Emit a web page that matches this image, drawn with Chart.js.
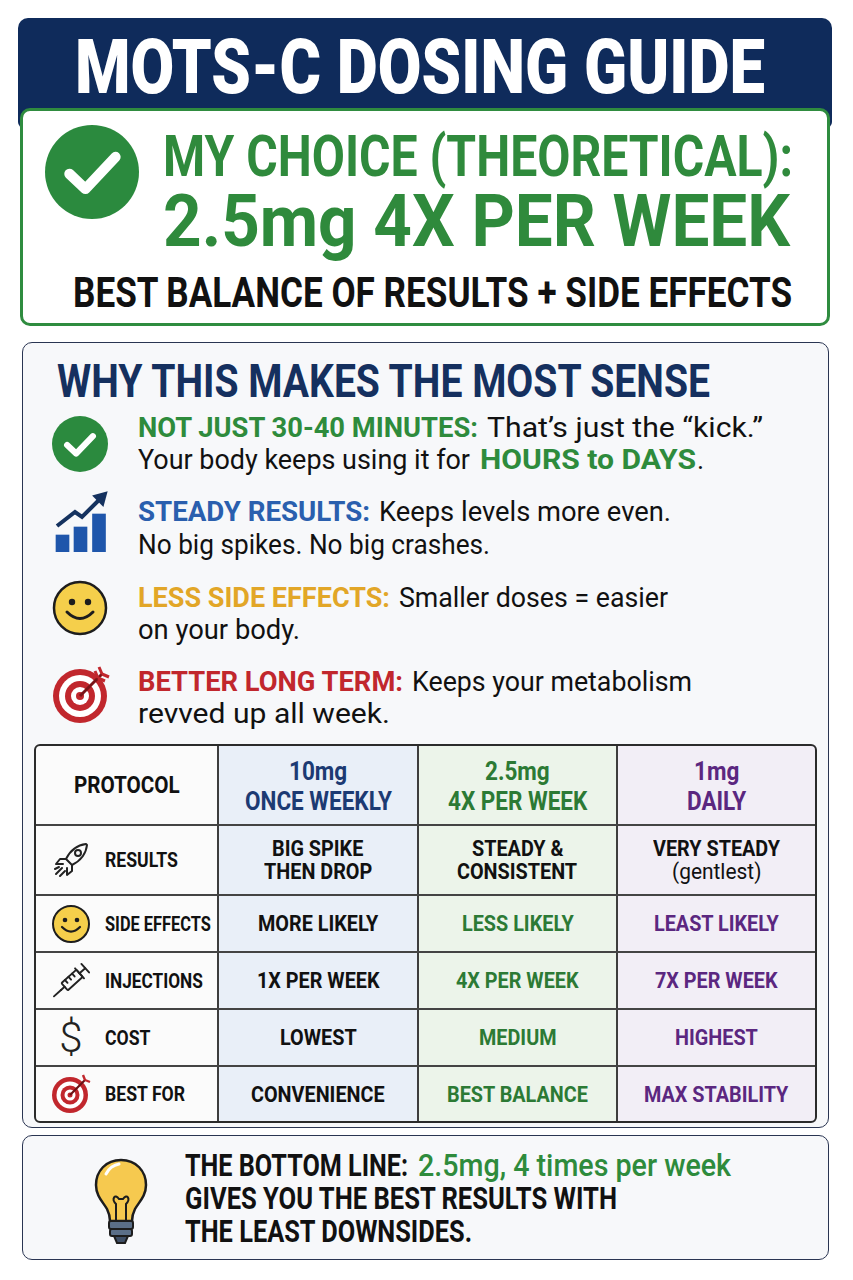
<!DOCTYPE html>
<html>
<head>
<meta charset="utf-8">
<script src="https://cdn.jsdelivr.net/npm/chart.js@4.4.1/dist/chart.umd.min.js"></script>
<style>
  html, body { margin: 0; padding: 0; background: #fff; }
  body { width: 853px; height: 1280px; position: relative; overflow: hidden; font-family: Roboto, "Noto Sans", sans-serif; }
  .abs { position: absolute; }
  .t { position: absolute; white-space: nowrap; line-height: 0.8; transform-origin: left center; }
  .b { font-weight: 700; }
  .nar { display: inline-block; white-space: nowrap; transform-origin: left center; }
  #head { left: 18px; top: 18px; width: 814px; height: 110px; background: #0f2b5b; border-radius: 10px 10px 6px 6px; }
  #choice { left: 20px; top: 108px; width: 804px; height: 212px; background: #fff; border: 3px solid #2f8c3f; border-radius: 10px; }
  #why { left: 22px; top: 342px; width: 805px; height: 784px; background: #f7f8fa; border: 1.5px solid #2a3552; border-radius: 10px; }
  #bottom { left: 22px; top: 1135px; width: 805px; height: 123px; background: #f7f8fa; border: 1.5px solid #2a3552; border-radius: 10px; }
  #tbl { left: 35px; top: 745px; width: 781px; height: 377px; }
  .cell { position: absolute; display: flex; flex-direction: column; align-items: center; justify-content: center; box-sizing: border-box; }
  .cell div { line-height: 23px; white-space: nowrap; }
</style>
</head>
<body>
<div id="head" class="abs"></div>
<div id="choice" class="abs"></div>
<div id="why" class="abs"></div>
<div id="bottom" class="abs"></div>

<!-- header texts -->
<div class="t" style="left:75px;top:37px;font-size:76px;font-weight:900;color:#fff" data-w="690">MOTS-C DOSING GUIDE</div>

<svg class="abs" style="left:45px;top:125px" width="94" height="94" viewBox="0 0 100 100">
  <circle cx="50" cy="50" r="50" fill="#2b8a3e"/>
  <polyline points="26,52 43,68 75,34" fill="none" stroke="#fff" stroke-width="11" stroke-linecap="round" stroke-linejoin="round"/>
</svg>
<div class="t b" style="left:163px;top:134px;font-size:57px;color:#2f8a3c" data-w="630">MY CHOICE (THEORETICAL):</div>
<div class="t b" style="left:163px;top:193px;font-size:72px;color:#2f8a3c" data-w="627">2.5mg 4X PER WEEK</div>
<div class="t b" style="left:73px;top:276px;font-size:42px;color:#111" data-w="719">BEST BALANCE OF RESULTS + SIDE EFFECTS</div>

<!-- why section -->
<div class="t b" style="left:57px;top:362px;font-size:47px;color:#15305f" data-w="653">WHY THIS MAKES THE MOST SENSE</div>

<svg class="abs" style="left:52px;top:416px" width="56" height="56" viewBox="0 0 100 100">
  <circle cx="50" cy="50" r="50" fill="#2b8a3e"/>
  <polyline points="27,52 43,67 73,36" fill="none" stroke="#fff" stroke-width="11" stroke-linecap="round" stroke-linejoin="round"/>
</svg>
<div class="t b" style="left:138px;top:418px;font-size:27px;color:#2e8b3c" data-w="340">NOT JUST 30-40 MINUTES:</div>
<div class="t" style="left:487px;top:418px;font-size:27px;color:#111" data-w="276">That’s just the “kick.”</div>
<div class="t" style="left:138px;top:450px;font-size:27px;color:#111" data-w="332">Your body keeps using it for</div>
<div class="t b" style="left:480px;top:450px;font-size:27px;color:#2e8b3c" data-w="216">HOURS to DAYS</div>
<div class="t" style="left:697px;top:450px;font-size:27px;color:#111">.</div>

<canvas id="icon" class="abs" style="left:53px;top:490px;width:56px;height:62px" width="56" height="62"></canvas>
<div class="t b" style="left:138px;top:502px;font-size:27px;color:#2a5fae" data-w="232">STEADY RESULTS:</div>
<div class="t" style="left:379px;top:502px;font-size:27px;color:#111" data-w="292">Keeps levels more even.</div>
<div class="t" style="left:138px;top:535px;font-size:27px;color:#111" data-w="352">No big spikes. No big crashes.</div>

<svg class="abs" style="left:52px;top:580px" width="56" height="56" viewBox="0 0 56 56">
  <circle cx="28" cy="28" r="26" fill="#f5cf4b" stroke="#1d1d1d" stroke-width="2.5"/>
  <circle cx="20" cy="22" r="3.2" fill="#1d1d1d"/>
  <circle cx="36" cy="22" r="3.2" fill="#1d1d1d"/>
  <path d="M15 32 Q28 45 41 32" fill="none" stroke="#1d1d1d" stroke-width="3" stroke-linecap="round"/>
</svg>
<div class="t b" style="left:138px;top:588px;font-size:27px;color:#e2a627" data-w="252">LESS SIDE EFFECTS:</div>
<div class="t" style="left:399px;top:588px;font-size:27px;color:#111" data-w="269">Smaller doses = easier</div>
<div class="t" style="left:138px;top:620px;font-size:27px;color:#111" data-w="162">on your body.</div>

<svg class="abs" style="left:52px;top:666px" width="58" height="58" viewBox="0 0 58 58">
  <circle cx="28" cy="30" r="27" fill="#c1272d"/>
  <circle cx="28" cy="30" r="21" fill="#fff"/>
  <circle cx="28" cy="30" r="15" fill="#c1272d"/>
  <circle cx="28" cy="30" r="9" fill="#fff"/>
  <circle cx="28" cy="30" r="4" fill="#c1272d"/>
  <line x1="28" y1="30" x2="50" y2="8" stroke="#7a1418" stroke-width="3"/>
  <path d="M50 8 L47 1 M50 8 L57 11 M46 12 L43 5 M46 12 L53 15" stroke="#c1272d" stroke-width="3" fill="none"/>
</svg>
<div class="t b" style="left:138px;top:672px;font-size:27px;color:#c1272d" data-w="265">BETTER LONG TERM:</div>
<div class="t" style="left:412px;top:672px;font-size:27px;color:#111" data-w="280">Keeps your metabolism</div>
<div class="t" style="left:138px;top:704px;font-size:27px;color:#111" data-w="252">revved up all week.</div>

<div id="tbl" class="abs"></div>

<!-- bottom line -->
<svg class="abs" style="left:92px;top:1157px" width="58" height="90" viewBox="0 0 58 90">
  <path d="M29 3 C14 3 4 14 4 28 C4 39 11 45 15 52 C17 56 18 60 18 64 L40 64 C40 60 41 56 43 52 C47 45 54 39 54 28 C54 14 44 3 29 3 Z" fill="#f6c94f" stroke="#1d1d1d" stroke-width="2.5"/>
  <path d="M14 17 C17 11 22 8 27 7" fill="none" stroke="#fff" stroke-width="3" stroke-linecap="round"/>
  <path d="M24 64 L24 47 C19 42 23 36 27 42 L31 42 C35 36 39 42 34 47 L34 64" fill="none" stroke="#1d1d1d" stroke-width="2"/>
  <rect x="17" y="64" width="24" height="8" rx="2" fill="#5b6f88" stroke="#1d1d1d" stroke-width="2"/>
  <rect x="18" y="72" width="22" height="7" rx="2" fill="#5b6f88" stroke="#1d1d1d" stroke-width="2"/>
  <path d="M22 79 L36 79 L33 86 L25 86 Z" fill="#3f4f66" stroke="#1d1d1d" stroke-width="2"/>
</svg>
<div class="t b" style="left:185px;top:1154px;font-size:31px;color:#111" data-w="223">THE BOTTOM LINE:</div>
<div class="t" style="left:418px;top:1154px;font-size:31px;font-weight:500;color:#2e8b3c" data-w="313">2.5mg, 4 times per week</div>
<div class="t b" style="left:185px;top:1187px;font-size:31px;color:#111" data-w="432">GIVES YOU THE BEST RESULTS WITH</div>
<div class="t b" style="left:185px;top:1220px;font-size:31px;color:#111" data-w="287">THE LEAST DOWNSIDES.</div>

<script>
// icon: small rising bar chart
const iconBarX = [9.5, 27.5, 46];
const iconBarH = [17, 25, 38];
const arrowX = [4, 22, 29, 49];
const arrowY = [26, 40, 35, 55];

// comparison table
const protocols = [["10mg", "ONCE WEEKLY"], ["2.5mg", "4X PER WEEK"], ["1mg", "DAILY"]];
const rowLabels = ["RESULTS", "SIDE EFFECTS", "INJECTIONS", "COST", "BEST FOR"];
const onceWeekly = [["BIG SPIKE", "THEN DROP"], ["MORE LIKELY"], ["1X PER WEEK"], ["LOWEST"], ["CONVENIENCE"]];
const fourPerWeek = [["STEADY &", "CONSISTENT"], ["LESS LIKELY"], ["4X PER WEEK"], ["MEDIUM"], ["BEST BALANCE"]];
const daily = [["VERY STEADY", "(gentlest)"], ["LEAST LIKELY"], ["7X PER WEEK"], ["HIGHEST"], ["MAX STABILITY"]];

const colEdges = [0, 183, 383, 582, 781];
const rowEdges = [0, 80, 150, 207, 264, 321, 377];
const colBg = ["#fbfbfb", "#e9eff8", "#ecf4ea", "#f2eef6"];
const colInk = ["#111", "#1c3a73", "#2c7a35", "#5b2780"];
const labelSquash = [0.84, 0.78, 0.82, 0.84, 0.84];

const rowIcons = [
  '<svg width="40" height="40" viewBox="0 0 40 40"><g fill="none" stroke="#222" stroke-width="2" stroke-linejoin="round" stroke-linecap="round"><path d="M35 4 C26 5 19 11 15 19 L21 25 C29 21 35 14 36 5 Z"/><circle cx="27" cy="13" r="3"/><path d="M15 19 L9 19 L5 24 L12 24"/><path d="M21 25 L21 31 L16 35 L16 28"/><path d="M11 28 L5 34 M14 31 L9 36 M8 27 L4 29"/></g></svg>',
  '<svg width="40" height="40" viewBox="0 0 40 40"><circle cx="20" cy="20" r="18" fill="#f5cf4b" stroke="#1d1d1d" stroke-width="2"/><circle cx="14" cy="16" r="2.3" fill="#1d1d1d"/><circle cx="26" cy="16" r="2.3" fill="#1d1d1d"/><path d="M11 23 Q20 32 29 23" fill="none" stroke="#1d1d1d" stroke-width="2.2" stroke-linecap="round"/></svg>',
  '<svg width="46" height="42" viewBox="0 0 46 42"><g transform="translate(23,21) rotate(-42)" fill="none" stroke="#222" stroke-width="2" stroke-linecap="round"><rect x="-9" y="-5" width="21" height="10" rx="1"/><line x1="12" y1="-7" x2="12" y2="7"/><line x1="12" y1="0" x2="20" y2="0"/><line x1="20" y1="-6" x2="20" y2="6"/><line x1="-9" y1="0" x2="-14" y2="0"/><line x1="-14" y1="0" x2="-24" y2="0"/><line x1="-4" y1="-5" x2="-4" y2="-1"/><line x1="1" y1="-5" x2="1" y2="-1"/><line x1="6" y1="-5" x2="6" y2="-1"/></g></svg>',
  '<div style="font:300 42px Roboto, sans-serif;color:#222;line-height:1;width:40px;text-align:center">$</div>',
  '<svg width="40" height="40" viewBox="0 0 40 40"><circle cx="19" cy="21" r="18" fill="#c1272d"/><circle cx="19" cy="21" r="13.5" fill="#fff"/><circle cx="19" cy="21" r="9.5" fill="#c1272d"/><circle cx="19" cy="21" r="5.5" fill="#fff"/><circle cx="19" cy="21" r="2.5" fill="#c1272d"/><line x1="19" y1="21" x2="34" y2="6" stroke="#6b1114" stroke-width="2.2"/><path d="M34 6 L32 1 M34 6 L39 8" stroke="#c1272d" stroke-width="2.4" fill="none"/></svg>'
];

function buildTable() {
  const tbl = document.getElementById("tbl");
  const cols = [null, onceWeekly, fourPerWeek, daily];
  let html = "";
  for (let c = 0; c < 4; c++) {
    html += `<div class="abs" style="left:${colEdges[c]}px;top:0;width:${colEdges[c + 1] - colEdges[c]}px;height:377px;background:${colBg[c]}"></div>`;
  }
  // header row
  html += `<div class="cell" style="left:0;top:0;width:183px;height:80px;font-size:24px;font-weight:700;color:#111"><div><span class="nar" data-s="0.86">PROTOCOL</span></div></div>`;
  protocols.forEach((p, i) => {
    const c = i + 1;
    html += `<div class="cell" style="left:${colEdges[c]}px;top:2px;width:${colEdges[c + 1] - colEdges[c]}px;height:80px;font-size:25px;font-weight:700;color:${colInk[c]}">` +
      p.map(s => `<div style="line-height:30px"><span class="nar" data-s="0.9">${s}</span></div>`).join("") + `</div>`;
  });
  // body rows
  rowLabels.forEach((label, r) => {
    const top = rowEdges[r + 1], h = rowEdges[r + 2] - rowEdges[r + 1];
    html += `<div class="abs" style="left:14px;top:${top + h / 2 - 20}px;width:44px;height:40px;display:flex;align-items:center;justify-content:center">${rowIcons[r]}</div>`;
    html += `<div class="abs" style="left:70px;top:${top}px;height:${h}px;display:flex;align-items:center;font-size:21px;font-weight:700;color:#111"><span class="nar" data-s="${labelSquash[r]}">${label}</span></div>`;
    for (let c = 1; c < 4; c++) {
      const lines = cols[c][r];
      const ink = r === 0 ? "#111" : colInk[c === 1 ? 0 : c];
      html += `<div class="cell" style="left:${colEdges[c]}px;top:${top}px;width:${colEdges[c + 1] - colEdges[c]}px;height:${h}px;font-size:22px;font-weight:700;color:${ink}">` +
        lines.map(s => s.startsWith("(") ? `<div style="font-weight:400"><span class="nar" data-s="0.95">${s}</span></div>` : `<div><span class="nar" data-s="0.9">${s}</span></div>`).join("") + `</div>`;
    }
  });
  // grid lines
  for (let c = 1; c < 4; c++) {
    html += `<div class="abs" style="left:${colEdges[c] - 1}px;top:0;width:2px;height:377px;background:#3d3d3d"></div>`;
  }
  for (let r = 1; r < rowEdges.length - 1; r++) {
    html += `<div class="abs" style="left:0;top:${rowEdges[r] - 1}px;width:781px;height:2px;background:#444"></div>`;
  }
  html += `<div class="abs" style="left:-1px;top:-1px;width:779px;height:375px;border:2px solid #2b2b2b;border-radius:6px"></div>`;
  tbl.innerHTML = html;
}

function fitText() {
  document.querySelectorAll("[data-w]").forEach(el => {
    const nw = el.getBoundingClientRect().width;
    el.style.transform = `scaleX(${+el.dataset.w / nw})`;
  });
  document.querySelectorAll(".nar").forEach(el => {
    const nw = el.getBoundingClientRect().width;
    const s = +(el.dataset.s || 0.84);
    el.style.transform = `scaleX(${s})`;
    el.style.marginRight = (nw * s - nw) + "px";
  });
}

const arrowHead = {
  id: "arrowHead",
  afterDatasetsDraw(chart) {
    const pts = chart.getDatasetMeta(1).data;
    const a = pts[pts.length - 2], b = pts[pts.length - 1];
    const ang = Math.atan2(b.y - a.y, b.x - a.x);
    const ctx = chart.ctx;
    ctx.save();
    ctx.translate(b.x, b.y);
    ctx.rotate(ang);
    ctx.fillStyle = "#15325f";
    ctx.beginPath();
    ctx.moveTo(8, 0);
    ctx.lineTo(-6, -8);
    ctx.lineTo(-6, 8);
    ctx.closePath();
    ctx.fill();
    ctx.restore();
  }
};

function drawIcon() {
  new Chart(document.getElementById("icon").getContext("2d"), {
    data: {
      datasets: [
        {
          type: "bar",
          data: iconBarX.map((x, i) => ({ x, y: iconBarH[i] })),
          backgroundColor: "#1f56ab",
          barThickness: 13
        },
        {
          type: "line",
          data: arrowX.map((x, i) => ({ x, y: arrowY[i] })),
          borderColor: "#15325f",
          borderWidth: 4,
          pointRadius: 0,
          tension: 0,
          borderJoinStyle: "miter"
        }
      ]
    },
    options: {
      responsive: false,
      animation: false,
      layout: { padding: 0 },
      plugins: { legend: { display: false }, tooltip: { enabled: false } },
      scales: {
        x: { type: "linear", min: 0, max: 56, offset: false, display: false },
        y: { min: 0, max: 62, display: false }
      }
    },
    plugins: [arrowHead]
  });
}

buildTable();
drawIcon();
document.fonts.ready.then(fitText);
</script>
</body>
</html>
